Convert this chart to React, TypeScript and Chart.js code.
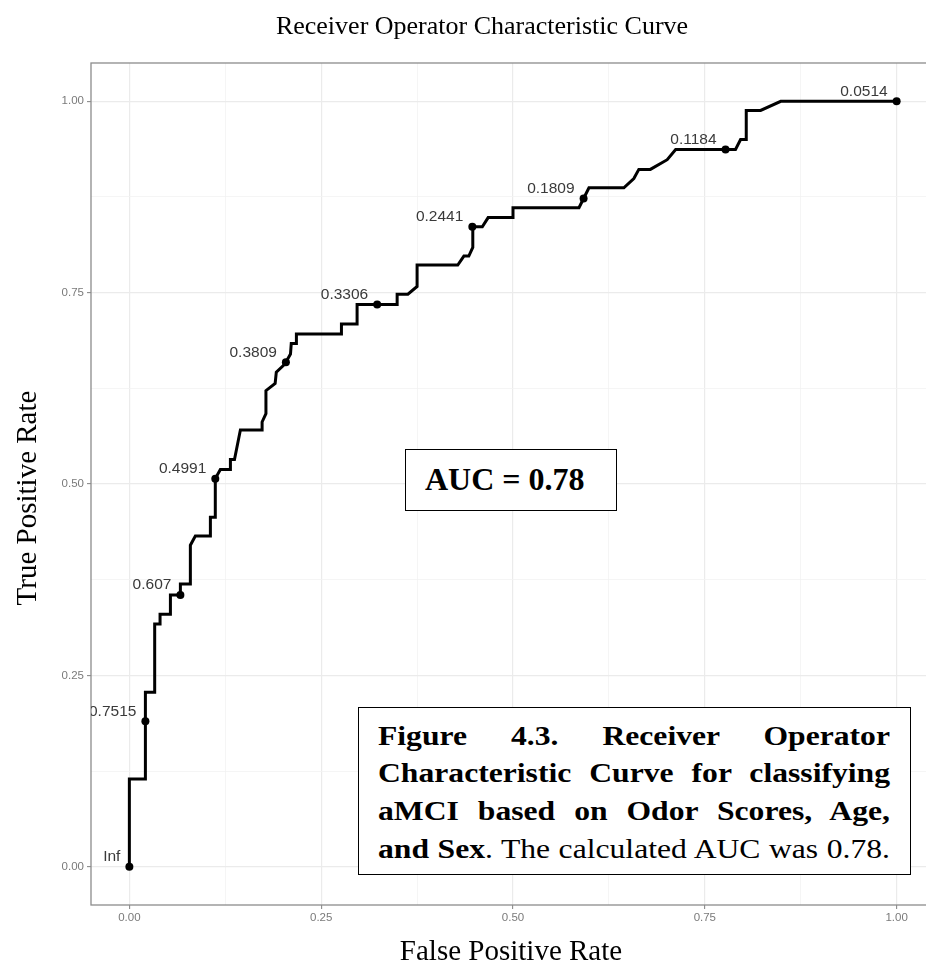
import React, { useEffect, useRef } from 'react';
import { Chart, registerables } from 'chart.js';

Chart.register(...registerables);

// ---------- data ----------
const chartTitle = 'Receiver Operator Characteristic Curve';
const xTitle = 'False Positive Rate';
const yTitle = 'True Positive Rate';

// ROC step path (false positive rate, true positive rate)
const rocFpr = [
  0, 0, 0.0209, 0.0209, 0.033, 0.033, 0.04, 0.04, 0.0535, 0.0535,
  0.0665, 0.0665, 0.0795, 0.0795, 0.086, 0.1056, 0.1056, 0.112, 0.112, 0.1186,
  0.1317, 0.1317, 0.137, 0.1447, 0.173, 0.173, 0.178, 0.178, 0.19, 0.1915,
  0.201, 0.204, 0.21, 0.211, 0.2177, 0.2177, 0.2764, 0.2764, 0.2968, 0.2968,
  0.349, 0.349, 0.363, 0.375, 0.375, 0.428, 0.436, 0.4424, 0.4476, 0.4476,
  0.46, 0.4676, 0.5, 0.5, 0.586, 0.592, 0.599, 0.6445, 0.6575, 0.664,
  0.679, 0.701, 0.712, 0.79, 0.7966, 0.804, 0.804, 0.8227, 0.849, 1.0,
];
const rocTpr = [
  0, 0.1145, 0.1145, 0.228, 0.228, 0.317, 0.317, 0.33, 0.33, 0.355,
  0.355, 0.3695, 0.3695, 0.42, 0.432, 0.432, 0.4565, 0.4565, 0.507, 0.519,
  0.519, 0.532, 0.532, 0.5705, 0.5705, 0.581, 0.592, 0.622, 0.6315, 0.646,
  0.655, 0.659, 0.6697, 0.6836, 0.6836, 0.696, 0.696, 0.709, 0.709, 0.7345,
  0.7345, 0.748, 0.748, 0.758, 0.786, 0.786, 0.7977, 0.7977, 0.809, 0.836,
  0.836, 0.848, 0.848, 0.861, 0.861, 0.873, 0.887, 0.887, 0.899, 0.911,
  0.911, 0.9237, 0.937, 0.937, 0.95, 0.95, 0.988, 0.988, 1.0, 1.0,
];

// labelled thresholds
const thresholdFpr = [0, 0.0209, 0.0665, 0.112, 0.204, 0.323, 0.447, 0.592, 0.777, 1.0];
const thresholdTpr = [0, 0.19, 0.355, 0.507, 0.659, 0.7345, 0.836, 0.873, 0.937, 1.0];
const thresholdLabels = ['Inf', '0.7515', '0.607', '0.4991', '0.3809', '0.3306', '0.2441', '0.1809', '0.1184', '0.0514'];

const majorTicks = [0, 0.25, 0.5, 0.75, 1];
const minorTicks = [0.125, 0.375, 0.625, 0.875];
const majorTickLabels = ['0.00', '0.25', '0.50', '0.75', '1.00'];

const aucText = 'AUC = 0.78';
const captionLines: { bold: string; normal: string }[] = [
  { bold: 'Figure 4.3. Receiver Operator', normal: '' },
  { bold: 'Characteristic Curve for classifying', normal: '' },
  { bold: 'aMCI based on Odor Scores, Age,', normal: '' },
  { bold: 'and Sex', normal: '. The calculated AUC was 0.78.' },
];

// ---------- styling ----------
const SERIF = '"Liberation Serif", "Times New Roman", serif';
const SANS = '"Liberation Sans", Arial, Helvetica, sans-serif';
const CANVAS_W = 950;
const CANVAS_H = 968;
const CAPTION_STRETCH = 1.13;

const isMajor = (v: number) => majorTicks.some((m) => Math.abs(m - v) < 1e-9);

const overlayPlugin = {
  id: 'rocOverlay',
  beforeDatasetsDraw(chart: any) {
    const { ctx, chartArea: a } = chart;
    ctx.save();
    ctx.strokeStyle = '#8c8c8c';
    ctx.lineWidth = 1.3;
    ctx.strokeRect(a.left, a.top, a.right - a.left, a.bottom - a.top);
    ctx.restore();
  },
  afterDatasetsDraw(chart: any) {
    const { ctx, chartArea: a, scales } = chart;
    const xs = scales.x;
    const ys = scales.y;

    // threshold labels (clipped to panel)
    ctx.save();
    ctx.beginPath();
    ctx.rect(a.left, a.top, a.right - a.left, a.bottom - a.top);
    ctx.clip();
    ctx.font = `15.5px ${SANS}`;
    ctx.fillStyle = '#3a3a3a';
    ctx.textAlign = 'right';
    ctx.textBaseline = 'middle';
    for (let i = 0; i < thresholdLabels.length; i++) {
      const px = xs.getPixelForValue(thresholdFpr[i]);
      const py = ys.getPixelForValue(thresholdTpr[i]);
      ctx.fillText(thresholdLabels[i], px - 9, py - 10);
    }
    ctx.restore();

    // titles
    ctx.save();
    ctx.fillStyle = '#000';
    ctx.textAlign = 'center';
    ctx.textBaseline = 'alphabetic';
    ctx.font = `26px ${SERIF}`;
    ctx.fillText(chartTitle, 482, 34);

    ctx.font = `29px ${SERIF}`;
    ctx.fillText(xTitle, 511, 960);

    ctx.translate(36, 498);
    ctx.rotate(-Math.PI / 2);
    ctx.fillText(yTitle, 0, 0);
    ctx.restore();
  },
};

function axisOptions(isX: boolean) {
  return {
    type: 'linear' as const,
    min: -0.05,
    max: 1.05,
    afterBuildTicks: (s: any) => {
      s.ticks = [...majorTicks, ...minorTicks].sort((p, q) => p - q).map((v) => ({ value: v }));
    },
    afterFit: (s: any) => {
      if (isX) s.height = 63;
      else s.width = 91;
    },
    ticks: {
      autoSkip: false,
      maxRotation: 0,
      minRotation: 0,
      padding: isX ? 2 : 3,
      color: '#7a7a7a',
      font: { family: SANS, size: 11.5 },
      callback: (v: number) => {
        const idx = majorTicks.findIndex((m) => Math.abs(m - v) < 1e-9);
        return idx >= 0 ? majorTickLabels[idx] : '';
      },
    },
    grid: {
      color: (c: any) => (c.tick && isMajor(c.tick.value) ? '#ebebeb' : '#f2f2f2'),
      lineWidth: (c: any) => (c.tick && isMajor(c.tick.value) ? 1.2 : 0.8),
      drawTicks: true,
      tickLength: 4,
      tickWidth: 1.1,
      tickColor: (c: any) => (c.tick && isMajor(c.tick.value) ? '#8c8c8c' : 'rgba(0,0,0,0)'),
    },
    border: { display: false },
    title: { display: false },
  };
}

export default function App() {
  const canvasRef = useRef<HTMLCanvasElement | null>(null);

  useEffect(() => {
    if (!canvasRef.current) return;
    const pathData = rocFpr.map((x, i) => ({ x, y: rocTpr[i] }));
    const pointData = thresholdFpr.map((x, i) => ({ x, y: thresholdTpr[i] }));
    const chart = new Chart(canvasRef.current, {
      type: 'scatter',
      data: {
        datasets: [
          {
            label: 'thresholds',
            data: pointData,
            showLine: false,
            pointRadius: 4,
            pointHoverRadius: 4,
            pointBackgroundColor: '#000',
            pointBorderColor: '#000',
            pointBorderWidth: 0,
          },
          {
            label: 'ROC',
            data: pathData,
            showLine: true,
            borderColor: '#000',
            borderWidth: 3,
            pointRadius: 0,
            pointHoverRadius: 0,
            tension: 0,
            fill: false,
            borderJoinStyle: 'miter',
          } as any,
        ],
      },
      options: {
        responsive: false,
        animation: false,
        events: [],
        layout: { padding: { left: 0, top: 63, right: 15, bottom: 0 }, autoPadding: false } as any,
        plugins: {
          legend: { display: false },
          tooltip: { enabled: false },
          title: { display: false },
        },
        scales: {
          x: axisOptions(true) as any,
          y: axisOptions(false) as any,
        },
      },
      plugins: [overlayPlugin],
    });
    return () => chart.destroy();
  }, []);

  return (
    <div
      style={{
        position: 'fixed',
        left: 0,
        top: 0,
        width: 926,
        height: 968,
        overflow: 'hidden',
        background: '#fff',
      }}
    >
      <div style={{ position: 'relative', width: CANVAS_W, height: CANVAS_H }}>
        <canvas ref={canvasRef} width={CANVAS_W} height={CANVAS_H} style={{ display: 'block' }} />
        <div
          style={{
            position: 'absolute',
            left: 405,
            top: 449,
            width: 212,
            height: 62,
            boxSizing: 'border-box',
            border: '1.5px solid #000',
            background: '#fff',
            fontFamily: SERIF,
            fontWeight: 'bold',
            fontSize: 32,
            lineHeight: '59px',
            paddingLeft: 19,
            whiteSpace: 'nowrap',
            color: '#000',
          }}
        >
          {aucText}
        </div>
        <div
          style={{
            position: 'absolute',
            left: 358,
            top: 707,
            width: 553,
            height: 168,
            boxSizing: 'border-box',
            border: '1.5px solid #000',
            background: '#fff',
            color: '#000',
            overflow: 'hidden',
          }}
        >
          <div
            style={{
              position: 'absolute',
              left: 19,
              top: 8.5,
              width: 512 / CAPTION_STRETCH,
              fontFamily: SERIF,
              fontSize: 28,
              lineHeight: '37.7px',
              transform: `scaleX(${CAPTION_STRETCH})`,
              transformOrigin: 'left top',
            }}
          >
            {captionLines.map((ln, i) => (
              <div key={i} style={{ textAlign: 'justify', textAlignLast: 'justify', whiteSpace: 'normal' } as any}>
                <b>{ln.bold}</b>
                {ln.normal}
              </div>
            ))}
          </div>
        </div>
      </div>
    </div>
  );
}
